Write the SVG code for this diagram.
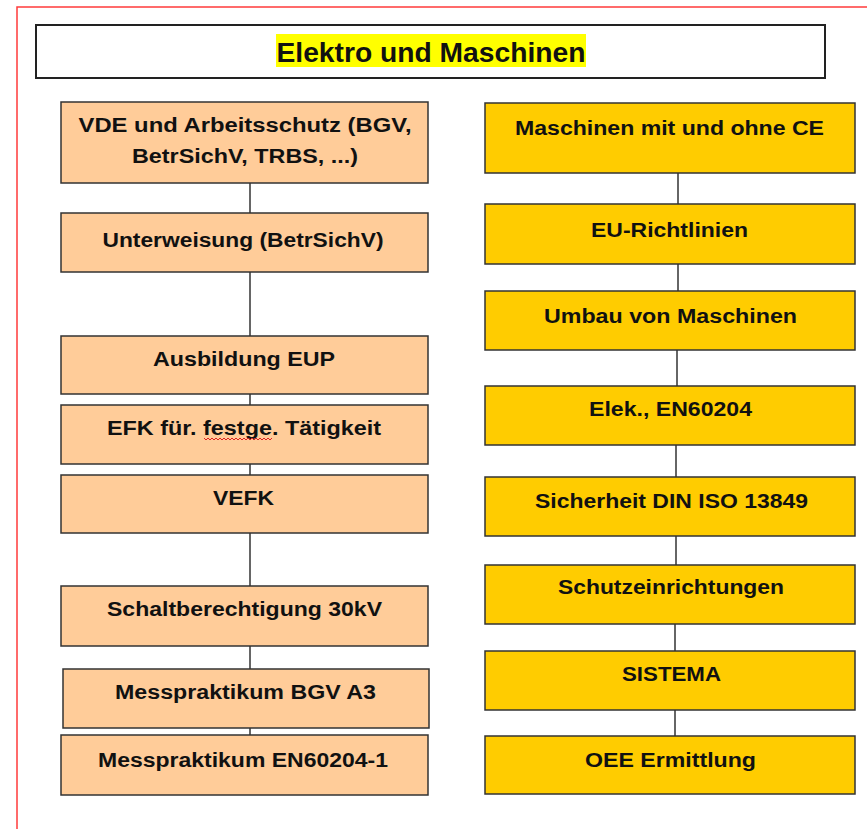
<svg xmlns="http://www.w3.org/2000/svg" width="867" height="829" viewBox="0 0 867 829">
<style>
  .l rect { fill: #FFCC99; stroke: #333; stroke-width: 1.5; }
  .r rect { fill: #FFCC00; stroke: #333; stroke-width: 1.5; }
  text { font-family: "Liberation Sans", Arial, sans-serif; font-weight: bold; font-size: 20px; fill: #111; text-anchor: middle; }
  #connectors line { stroke: #333; stroke-width: 1.5; }
</style>
<rect x="0" y="0" width="867" height="829" fill="#fff"/>
<rect x="17" y="7" width="870" height="840" fill="none" stroke="#ff3b3b" stroke-width="1.5"/>
<g id="title">
  <rect x="36" y="25" width="789" height="53" fill="#fff" stroke="#222" stroke-width="2"/>
  <rect x="276" y="34" width="310" height="33" fill="#ffff00"/>
  <text x="431" y="62" style="font-size:27px" textLength="309" lengthAdjust="spacingAndGlyphs">Elektro und Maschinen</text>
</g>
<g id="connectors">
  <line x1="250" y1="183" x2="250" y2="213"/>
  <line x1="250" y1="272" x2="250" y2="336"/>
  <line x1="250" y1="394" x2="250" y2="405"/>
  <line x1="250" y1="464" x2="250" y2="475"/>
  <line x1="250" y1="533" x2="250" y2="586"/>
  <line x1="250" y1="646" x2="250" y2="669"/>
  <line x1="250" y1="728" x2="250" y2="735"/>
  <line x1="678" y1="173" x2="678" y2="204"/>
  <line x1="678" y1="264" x2="678" y2="291"/>
  <line x1="677" y1="350" x2="677" y2="386"/>
  <line x1="676" y1="445" x2="676" y2="477"/>
  <line x1="676" y1="536" x2="676" y2="565"/>
  <line x1="675" y1="624" x2="675" y2="651"/>
  <line x1="675" y1="710" x2="675" y2="736"/>
</g>
<g id="n1" class="l"><rect x="61" y="102" width="367" height="81"/>
  <text x="245" y="132" textLength="333" lengthAdjust="spacingAndGlyphs">VDE und Arbeitsschutz (BGV,</text>
  <text x="245" y="163" textLength="226" lengthAdjust="spacingAndGlyphs">BetrSichV, TRBS, ...)</text></g>
<g id="n2" class="l"><rect x="61" y="213" width="367" height="59"/>
  <text x="243" y="247" textLength="281" lengthAdjust="spacingAndGlyphs">Unterweisung (BetrSichV)</text></g>
<g id="n3" class="l"><rect x="61" y="336" width="367" height="58"/>
  <text x="244" y="366" textLength="182" lengthAdjust="spacingAndGlyphs">Ausbildung EUP</text></g>
<g id="n4" class="l"><rect x="61" y="405" width="367" height="59"/>
  <text x="244" y="435" textLength="274" lengthAdjust="spacingAndGlyphs">EFK für. festge. Tätigkeit</text>
  <path d="M204 438 l2 2 l2 -2 l2 2 l2 -2 l2 2 l2 -2 l2 2 l2 -2 l2 2 l2 -2 l2 2 l2 -2 l2 2 l2 -2 l2 2 l2 -2 l2 2 l2 -2 l2 2 l2 -2 l2 2 l2 -2 l2 2 l2 -2 l2 2 l2 -2 l2 2 l2 -2 l2 2 l2 -2 l2 2 l2 -2 l2 2 l2 -2" fill="none" stroke="#e02020" stroke-width="1"/></g>
<g id="n5" class="l"><rect x="61" y="475" width="367" height="58"/>
  <text x="243.5" y="505" textLength="61" lengthAdjust="spacingAndGlyphs">VEFK</text></g>
<g id="n6" class="l"><rect x="61" y="586" width="367" height="60"/>
  <text x="244.5" y="616" textLength="275" lengthAdjust="spacingAndGlyphs">Schaltberechtigung 30kV</text></g>
<g id="n7" class="l"><rect x="63" y="669" width="366" height="59"/>
  <text x="245.5" y="699" textLength="261" lengthAdjust="spacingAndGlyphs">Messpraktikum BGV A3</text></g>
<g id="n8" class="l"><rect x="61" y="735" width="367" height="60"/>
  <text x="243" y="767" textLength="290" lengthAdjust="spacingAndGlyphs">Messpraktikum EN60204-1</text></g>
<g id="m1" class="r"><rect x="485" y="103" width="370" height="70"/>
  <text x="669.5" y="135" textLength="309" lengthAdjust="spacingAndGlyphs">Maschinen mit und ohne CE</text></g>
<g id="m2" class="r"><rect x="485" y="204" width="370" height="60"/>
  <text x="669.5" y="237" textLength="157" lengthAdjust="spacingAndGlyphs">EU-Richtlinien</text></g>
<g id="m3" class="r"><rect x="485" y="291" width="370" height="59"/>
  <text x="670.5" y="323" textLength="253" lengthAdjust="spacingAndGlyphs">Umbau von Maschinen</text></g>
<g id="m4" class="r"><rect x="485" y="386" width="370" height="59"/>
  <text x="670.5" y="416" textLength="163" lengthAdjust="spacingAndGlyphs">Elek., EN60204</text></g>
<g id="m5" class="r"><rect x="485" y="477" width="370" height="59"/>
  <text x="671.5" y="508" textLength="273" lengthAdjust="spacingAndGlyphs">Sicherheit DIN ISO 13849</text></g>
<g id="m6" class="r"><rect x="485" y="565" width="370" height="59"/>
  <text x="671" y="594" textLength="226" lengthAdjust="spacingAndGlyphs">Schutzeinrichtungen</text></g>
<g id="m7" class="r"><rect x="485" y="651" width="370" height="59"/>
  <text x="671.5" y="681" textLength="99" lengthAdjust="spacingAndGlyphs">SISTEMA</text></g>
<g id="m8" class="r"><rect x="485" y="736" width="370" height="58"/>
  <text x="670.5" y="767" textLength="171" lengthAdjust="spacingAndGlyphs">OEE Ermittlung</text></g>
</svg>
